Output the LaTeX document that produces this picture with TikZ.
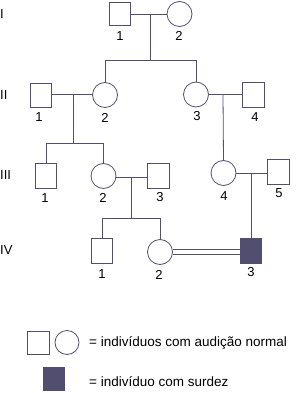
\documentclass[tikz,border=0pt]{standalone}
\usepackage{fontspec}
\setmainfont{Liberation Sans}
\definecolor{ln}{RGB}{82,78,112}
\begin{document}
\begin{tikzpicture}[x=1pt,y=-1pt,
  male/.style={draw=ln,line width=0.8pt,minimum size=21.5pt,inner sep=0pt,rectangle},
  female/.style={draw=ln,line width=0.8pt,minimum size=25pt,inner sep=0pt,circle},
  aff/.style={male,fill=ln},
  rel/.style={draw=ln,line width=0.8pt},
  num/.style={font=\fontsize{13}{15}\selectfont,inner sep=0pt},
  gen/.style={font=\fontsize{13}{15}\selectfont,inner sep=0pt,anchor=west},
  leg/.style={font=\fontsize{13.5}{16}\selectfont,inner sep=0pt,anchor=west}]
\useasboundingbox (0,0) rectangle (297,393);
% generation labels
\node[gen] (gI) at (0,14) {I};
\node[gen] (gII) at (0,95) {II};
\node[gen] (gIII) at (0,175) {III};
\node[gen] (gIV) at (0,250) {IV};
% generation I
\node[male,minimum height=23pt] (i1) at (120,14) {};
\node[female] (i2) at (179.5,14) {};
\node[num] at (120,36) {1};
\node[num] at (179,36) {2};
% generation II
\node[male,minimum height=24pt] (ii1) at (41,95.5) {};
\node[female] (ii2) at (105,95) {};
\node[female] (ii3) at (196,94.5) {};
\node[male,minimum height=25pt] (ii4) at (253.5,95) {};
\node[num] at (39,117.5) {1};
\node[num] at (105,117.5) {2};
\node[num] at (197,116.5) {3};
\node[num] at (255,117.5) {4};
% generation III
\node[male,minimum height=25pt] (iii1) at (46,175.5) {};
\node[female] (iii2) at (103.5,176) {};
\node[male,minimum height=25pt] (iii3) at (158.5,175.5) {};
\node[female] (iii4) at (223.5,173) {};
\node[male,minimum height=25pt] (iii5) at (278.5,171.5) {};
\node[num] at (45,198) {1};
\node[num] at (103,198) {2};
\node[num] at (160,197) {3};
\node[num] at (224,196) {4};
\node[num] at (279,193) {5};
% generation IV
\node[male,minimum height=25pt] (iv1) at (102,251) {};
\node[female] (iv2) at (160,252) {};
\node[aff,minimum height=25pt] (iv3) at (251,250.5) {};
\node[num] at (102,274.5) {1};
\node[num] at (159,274.5) {2};
\node[num] at (251,272.5) {3};
% coordinates
\coordinate (m1) at (150,14);
\coordinate (s1) at (150,60);
\coordinate (m2) at (73,94);
\coordinate (s2) at (73,143);
\coordinate (m3) at (223,94);
\coordinate (m4) at (131,177);
\coordinate (s4) at (131,218);
\coordinate (m5) at (251,173);
% lines gen I
\draw[rel] (i1.east |- m1) -- (i2.west |- m1);
\draw[rel] (m1) -- (s1);
\draw[rel] (ii2.north) -- (ii2.north |- s1) -- (ii3.north |- s1) -- (ii3.north);
% lines gen II
\draw[rel] (ii1.east |- m2) -- (ii2.west |- m2);
\draw[rel] (m2) -- (s2);
\draw[rel] (iii1.north) -- (iii1.north |- s2) -- (iii2.north |- s2) -- (iii2.north);
\draw[rel] (ii3.east |- m3) -- (ii4.west |- m3);
\draw[rel] (m3) -- (iii4.north);
% lines gen III
\draw[rel] (iii2.east |- m4) -- (iii3.west |- m4);
\draw[rel] (m4) -- (s4);
\draw[rel] (iv1.north) -- (iv1.north |- s4) -- (iv2.north |- s4) -- (iv2.north);
\draw[rel] (iii4.east |- m5) -- (iii5.west |- m5);
\draw[rel] (m5) -- (iv3.north);
% consanguineous marriage
\draw[rel] ([yshift=-2.6pt]iv2.east) -- ([yshift=-2.6pt]iv3.west |- iv2.east);
\draw[rel] ([yshift=2.6pt]iv2.east) -- ([yshift=2.6pt]iv3.west |- iv2.east);
% legend
\node[male,minimum height=23pt] (lm) at (38.5,342.5) {};
\node[female,minimum size=24pt] (lf) at (67,342.5) {};
\node[leg] (lt1) at (89,343) {= indivíduos com audição normal};
\node[aff,minimum height=23pt] (la) at (54,379) {};
\node[leg] (lt2) at (89,382) {= indivíduo com surdez};
\end{tikzpicture}
\end{document}
